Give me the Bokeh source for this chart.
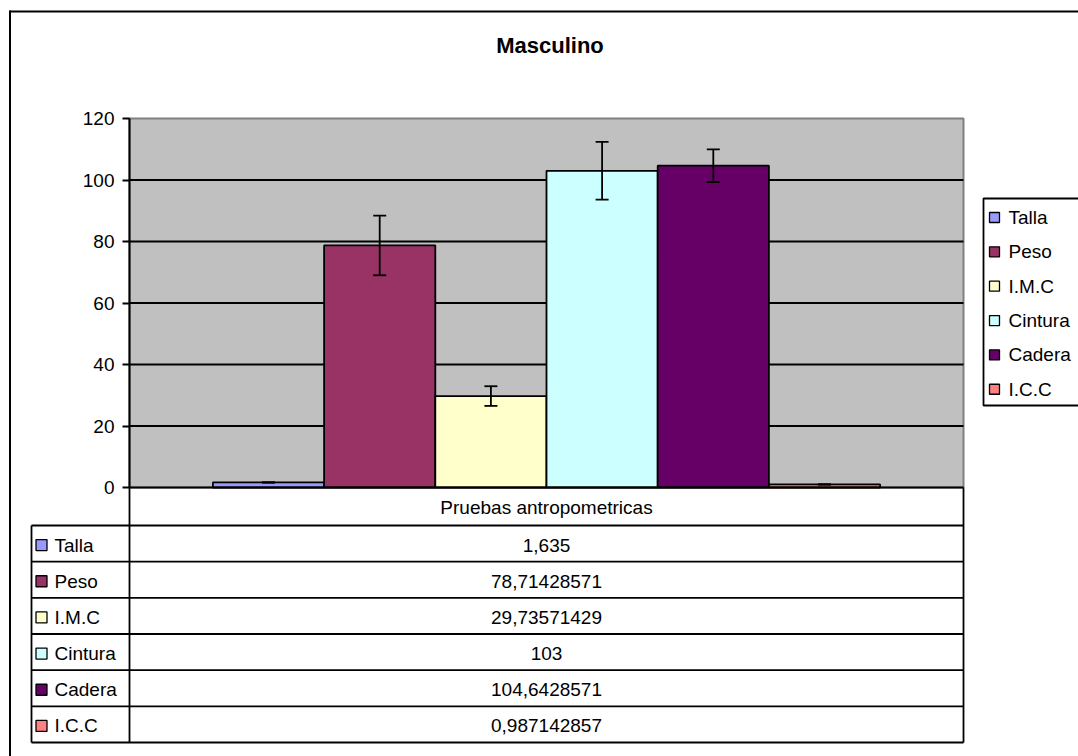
from bokeh.plotting import figure
from bokeh.models import Range1d, LinearAxis, FixedTicker, Whisker, ColumnDataSource, TeeHead
from bokeh.core.properties import value
from bokeh.embed import file_html
from bokeh.resources import INLINE

# ---------------- data ----------------
TITLE = "Masculino"
CATEGORY = "Pruebas antropometricas"
SERIES = ["Talla", "Peso", "I.M.C", "Cintura", "Cadera", "I.C.C"]
MEANS = [1.635, 78.71428571, 29.73571429, 103, 104.6428571, 0.987142857]
ERRORS = [0.07, 9.7, 3.2, 9.4, 5.3, 0.06]
Y_TICKS = [0, 20, 40, 60, 80, 100, 120]

# ---------------- style ----------------
COLORS = ["#9999FF", "#993366", "#FFFFCC", "#CCFFFF", "#660066", "#FF8080"]
FONT = "Liberation Sans"
FS = "19px"
LW = 1.8

# ---------------- layout (page pixels) ----------------
W, H, M = 1078, 756, 0
PL, PR, PT, PB = 129, 963, 118, 487          # plot area
GAP = 0.75                                   # gap on each side, in bar widths
TL = 31                                      # data table left edge
HDR_H = 38                                   # header row height
TB = 742                                     # data table bottom
LEG_L, LEG_T, LEG_B = 983, 198, 405          # legend box

n = len(SERIES)
x_lo, x_hi = -0.5 - GAP, n - 0.5 + GAP
ppx = (PR - PL) / (x_hi - x_lo)
ymax = Y_TICKS[-1]
ppy = (PB - PT) / ymax

x_range = Range1d(x_lo - (PL - M) / ppx, x_hi + (M + W - PR) / ppx)
y_range = Range1d(-(M + H - PB) / ppy, ymax + (PT - M) / ppy)

p = figure(width=W, height=H, x_range=x_range, y_range=y_range,
           x_axis_type=None, y_axis_type=None, tools="", toolbar_location=None,
           output_backend="svg", min_border=0, outline_line_color=None,
           background_fill_color="white", border_fill_color="white", title=None)
p.extra_x_ranges = {"px": Range1d(M, M + W)}
p.extra_y_ranges = {"px": Range1d(M + H, M)}
PX = dict(x_range_name="px", y_range_name="px")

# plot area background
p.quad(left=[x_lo], right=[x_hi], bottom=[0], top=[ymax],
       fill_color="#C0C0C0", line_color="#808080", line_width=2)

# gridlines
grid = [t for t in Y_TICKS if 0 < t < ymax]
p.segment(x0=[x_lo] * len(grid), x1=[x_hi] * len(grid), y0=grid, y1=grid,
          line_color="black", line_width=LW)

# bars
idx = list(range(n))
p.vbar(x=idx, top=MEANS, bottom=0, width=1, fill_color=COLORS,
       line_color="black", line_width=LW)

# error bars
src = ColumnDataSource(dict(x=idx,
                            upper=[m + e for m, e in zip(MEANS, ERRORS)],
                            lower=[m - e for m, e in zip(MEANS, ERRORS)]))
wh = Whisker(source=src, base="x", upper="upper", lower="lower",
             line_color="black", line_width=LW, level="annotation",
             upper_head=TeeHead(size=13, line_color="black", line_width=LW),
             lower_head=TeeHead(size=13, line_color="black", line_width=LW))
p.add_layout(wh)

# zero line
p.segment(x0=[x_lo], x1=[x_hi], y0=[0], y1=[0], line_color="black", line_width=2)

# y axis
ax = LinearAxis(fixed_location=x_lo, bounds=(0, ymax), ticker=FixedTicker(ticks=Y_TICKS),
                major_tick_out=7, major_tick_in=0, minor_tick_line_color=None,
                axis_line_color="black", axis_line_width=2,
                major_tick_line_color="black", major_tick_line_width=LW,
                major_label_text_font=FONT, major_label_text_font_size=FS,
                major_label_text_color="black", major_label_standoff=8)
p.add_layout(ax, "left")

# ---------------- data table ----------------
rows_top = PB + HDR_H
row_h = (TB - rows_top) / n
hlines = [rows_top + i * row_h for i in range(n + 1)]
p.segment(x0=[TL] * len(hlines), x1=[PR] * len(hlines), y0=hlines, y1=hlines,
          line_color="black", line_width=LW, **PX)
p.segment(x0=[TL, PL, PR], x1=[TL, PL, PR], y0=[rows_top, PB, PB], y1=[TB, TB, TB],
          line_color="black", line_width=LW, **PX)

xc = (PL + PR) / 2
p.text(x=[xc], y=[PB + HDR_H / 2 + 1], text=[CATEGORY], text_align="center",
       text_baseline="middle", text_font=value(FONT), text_font_size=value(FS),
       text_color="black", **PX)

row_c = [rows_top + (i + 0.5) * row_h + 1.5 for i in range(n)]
vals = [format(v, ".10g").replace(".", ",") for v in MEANS]
p.text(x=[xc] * n, y=row_c, text=vals, text_align="center", text_baseline="middle",
       text_font=value(FONT), text_font_size=value(FS), text_color="black", **PX)
p.scatter(x=[TL + 10] * n, y=row_c, marker="square", size=11, fill_color=COLORS,
          line_color="black", line_width=1.3, **PX)
p.text(x=[TL + 23] * n, y=row_c, text=SERIES, text_align="left", text_baseline="middle",
       text_font=value(FONT), text_font_size=value(FS), text_color="black", **PX)

# ---------------- legend ----------------
p.quad(left=[LEG_L], right=[M + W + 20], top=[LEG_T], bottom=[LEG_B],
       fill_color="white", line_color="black", line_width=LW, **PX)
leg_c = [LEG_T + 19 + i * 34.35 for i in range(n)]
p.scatter(x=[LEG_L + 11] * n, y=leg_c, marker="square", size=10, fill_color=COLORS,
          line_color="black", line_width=1.3, **PX)
p.text(x=[LEG_L + 25] * n, y=leg_c, text=SERIES, text_align="left", text_baseline="middle",
       text_font=value(FONT), text_font_size=value(FS), text_color="black", **PX)

# ---------------- title & outer border ----------------
p.text(x=[549.5], y=[45], text=[TITLE], text_align="center", text_baseline="middle",
       text_font=value(FONT), text_font_size=value("22px"), text_font_style="bold",
       text_color="black", **PX)
p.segment(x0=[9.5, 9], x1=[9.5, M + W], y0=[10, 11], y1=[M + H, 11],
          line_color="black", line_width=2, **PX)

open("out.html", "w").write(file_html(p, INLINE))
